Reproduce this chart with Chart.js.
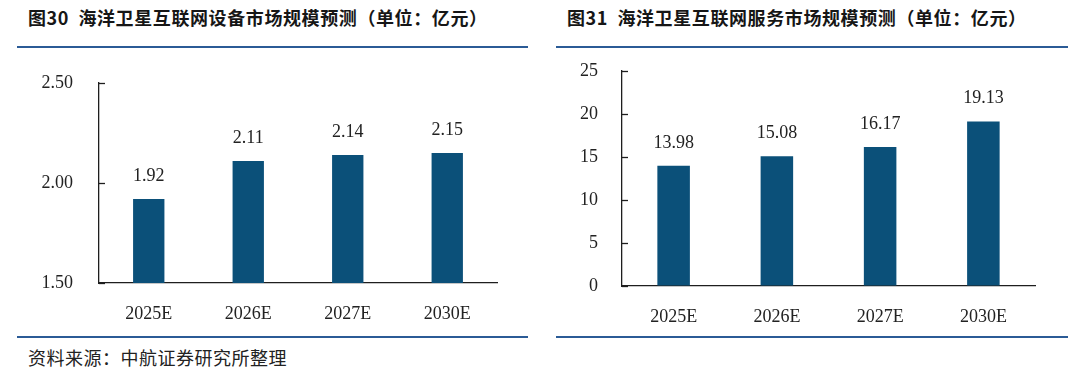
<!DOCTYPE html>
<html>
<head>
<meta charset="utf-8">
<script src="https://cdn.jsdelivr.net/npm/chart.js@4.4.1/dist/chart.umd.min.js"></script>
<style>
  html, body { margin: 0; padding: 0; background: #ffffff; }
  body { width: 1080px; height: 378px; position: relative; overflow: hidden; }
  .title { position: absolute; top: 5px; height: 24px; line-height: 24px; font-family: "Noto Sans CJK SC", sans-serif; font-weight: 700; font-size: 18px; color: #161616; white-space: nowrap; letter-spacing: 0.6px; }
  .rule { position: absolute; height: 2px; background: #2b5b96; }
  .box { position: absolute; top: 0; width: 540px; height: 340px; }
  .source { position: absolute; left: 28px; top: 345px; height: 24px; line-height: 24px; font-family: "Noto Sans CJK SC", sans-serif; font-size: 18px; color: #222; white-space: nowrap; letter-spacing: 0.5px; }
</style>
</head>
<body>
<div class="title" style="left:28px;">图30&nbsp;&nbsp;海洋卫星互联网设备市场规模预测（单位：亿元）</div>
<div class="title" style="left:567px;">图31&nbsp;&nbsp;海洋卫星互联网服务市场规模预测（单位：亿元）</div>
<div class="rule" style="left:17px; width:511px; top:46px;"></div>
<div class="rule" style="left:556px; width:512px; top:46px;"></div>
<div class="box" style="left:0;"><canvas id="c1" width="540" height="340"></canvas></div>
<div class="box" style="left:540px;"><canvas id="c2" width="540" height="340"></canvas></div>
<div class="rule" style="left:17px; width:511px; top:336px;"></div>
<div class="rule" style="left:556px; width:512px; top:336px;"></div>
<div class="source">资料来源：中航证券研究所整理</div>
<script>
const categories = ['2025E', '2026E', '2027E', '2030E'];
const equipmentValues = [1.92, 2.11, 2.14, 2.15];
const serviceValues = [13.98, 15.08, 16.17, 19.13];
const equipmentTicks = [1.5, 2.0, 2.5];
const serviceTicks = [0, 5, 10, 15, 20, 25];

const BAR = '#0b5079';
const AXIS = '#1e1e1e';
const TEXT = '#222222';
const SERIF = '"Liberation Serif", "DejaVu Serif", serif';

const innerTicks = {
  id: 'innerTicks',
  afterDraw(chart) {
    const ys = chart.scales.y;
    const ctx = chart.ctx;
    ctx.save();
    ctx.strokeStyle = AXIS;
    ctx.lineWidth = 1.3;
    ys.ticks.forEach(t => {
      const y = Math.round(ys.getPixelForValue(t.value)) + 0.5;
      ctx.beginPath();
      ctx.moveTo(ys.right, y);
      ctx.lineTo(ys.right + 6, y);
      ctx.stroke();
    });
    ctx.restore();
  }
};

const valueLabels = {
  id: 'valueLabels',
  afterDatasetsDraw(chart) {
    const ctx = chart.ctx;
    const meta = chart.getDatasetMeta(0);
    const data = chart.data.datasets[0].data;
    ctx.save();
    ctx.font = '18px ' + SERIF;
    ctx.fillStyle = TEXT;
    ctx.textAlign = 'center';
    ctx.textBaseline = 'middle';
    meta.data.forEach((bar, i) => {
      ctx.fillText(data[i].toFixed(2), bar.x, bar.y - 23);
    });
    ctx.restore();
  }
};

function makeChart(id, values, tickVals, cfg) {
  return new Chart(document.getElementById(id), {
    type: 'bar',
    data: {
      labels: categories,
      datasets: [{
        data: values,
        backgroundColor: BAR,
        borderWidth: 0,
        barPercentage: 0.315,
        categoryPercentage: 1.0
      }]
    },
    options: {
      responsive: false,
      maintainAspectRatio: false,
      animation: false,
      devicePixelRatio: 1,
      layout: { padding: { top: cfg.top, right: cfg.right, left: 0, bottom: 0 } },
      plugins: { legend: { display: false }, tooltip: { enabled: false } },
      scales: {
        x: {
          grid: { display: true, drawOnChartArea: false, drawTicks: false },
          border: { display: true, color: AXIS, width: 1.3 },
          ticks: { color: TEXT, font: { family: SERIF, size: 18 }, padding: 20, maxRotation: 0 },
          afterFit(scale) { scale.height = cfg.xh; }
        },
        y: {
          min: tickVals[0],
          max: tickVals[tickVals.length - 1],
          grid: { display: true, drawOnChartArea: false, drawTicks: false },
          border: { display: true, color: AXIS, width: 1.3 },
          afterBuildTicks(scale) { scale.ticks = tickVals.map(v => ({ value: v })); },
          ticks: {
            color: TEXT,
            font: { family: SERIF, size: 18 },
            padding: cfg.ypad,
            callback: (v) => cfg.fmt(v)
          },
          afterFit(scale) { scale.width = cfg.yw; }
        }
      }
    },
    plugins: [innerTicks, valueLabels]
  });
}

makeChart('c1', equipmentValues, equipmentTicks, {
  top: 83, right: 43, xh: 57, yw: 99, ypad: 26, fmt: v => Number(v).toFixed(2)
});
makeChart('c2', serviceValues, serviceTicks, {
  top: 71, right: 45, xh: 54, yw: 82, ypad: 24, fmt: v => String(v)
});
</script>
</body>
</html>
